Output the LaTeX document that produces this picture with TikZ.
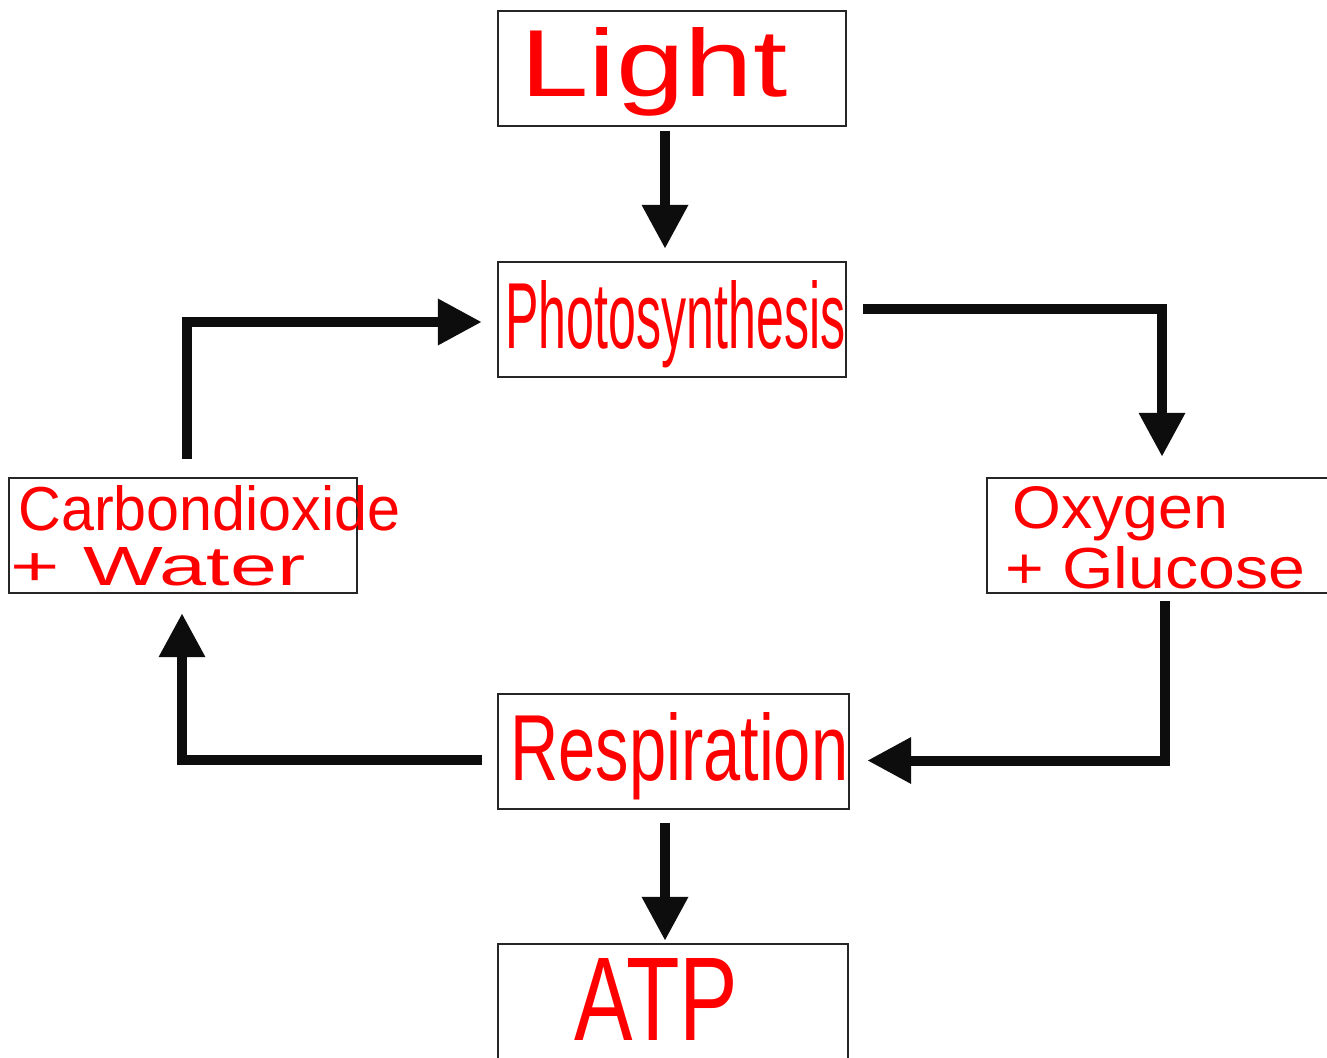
\documentclass[tikz,border=0pt]{standalone}
\usepackage{fontspec}
\setmainfont{Liberation Sans}
\usetikzlibrary{arrows.meta,calc}
\newlength{\pxu}
\setlength{\pxu}{0.02cm}
\newcommand{\hw}[3]{\resizebox{#1\pxu}{#2\pxu}{#3}}
\begin{document}
\begin{tikzpicture}[x=0.02cm,y=-0.02cm,
  boxst/.style={draw=black!85, line width=0.05cm, minimum width=6.96cm, minimum height=2.3cm, inner sep=0pt},
  txt/.style={anchor=base west, inner sep=0pt, text=red},
  arr/.style={line width=0.2cm, black!95, line join=miter, -{Triangle[length=0.88cm,width=0.88cm]}}]
\clip (0,0) rectangle (1327,1057);
\fill[white] (0,0) rectangle (1327,1057);
% boxes
\node[boxst] (light) at (672,68.5) {};
\node[boxst] (photo) at (672,319.5) {};
\node[boxst] (co2) at (183,535.5) {};
\node[boxst, minimum width=7.06cm] (oxy) at (1163.5,535.5) {};
\node[boxst, minimum width=7.02cm] (resp) at (673.5,751.5) {};
\node[boxst, minimum width=7cm, minimum height=2.8cm] (atp) at (673,1014) {};
% texts
\node[txt] (tlight) at (520,97) {\hw{267}{69}{Light}};
\node[txt] (tphoto) at (505,348) {\hw{340}{68}{Photosynthesis}};
\node[txt] (tco2a) at (18,530) {\hw{382}{45}{Carbondioxide}};
\node[txt] (tco2b) at (10,585) {\hw{295}{38}{+ Water}};
\node[txt] (toxya) at (1012,528) {\hw{216}{42}{Oxygen}};
\node[txt] (toxyb) at (1005,588) {\hw{300}{42}{+ Glucose}};
\node[txt] (tresp) at (510,780) {\hw{338}{68}{Respiration}};
\node[txt] (tatp) at (574,1040) {\hw{164}{82}{ATP}};
% connectors
\draw[arr] ($(light.south)+(-7,4)$) -- ($(photo.north)+(-7,-12)$);
\draw[arr] ($(photo.east)+(16,-10.5)$) -| ($(oxy.north)+(-1.5,-20)$);
\draw[arr] ($(oxy.south)+(1.5,7)$) |- ($(resp.east)+(17,9)$);
\draw[arr] ($(resp.west)+(-15,8.5)$) -| ($(co2.south)+(-1,19)$);
\draw[arr] ($(co2.north)+(4,-18)$) |- ($(photo.west)+(-15,2.5)$);
\draw[arr] ($(resp.south)+(-8.5,13)$) -- ($(atp.north)+(-8,-2)$);
\end{tikzpicture}
\end{document}
